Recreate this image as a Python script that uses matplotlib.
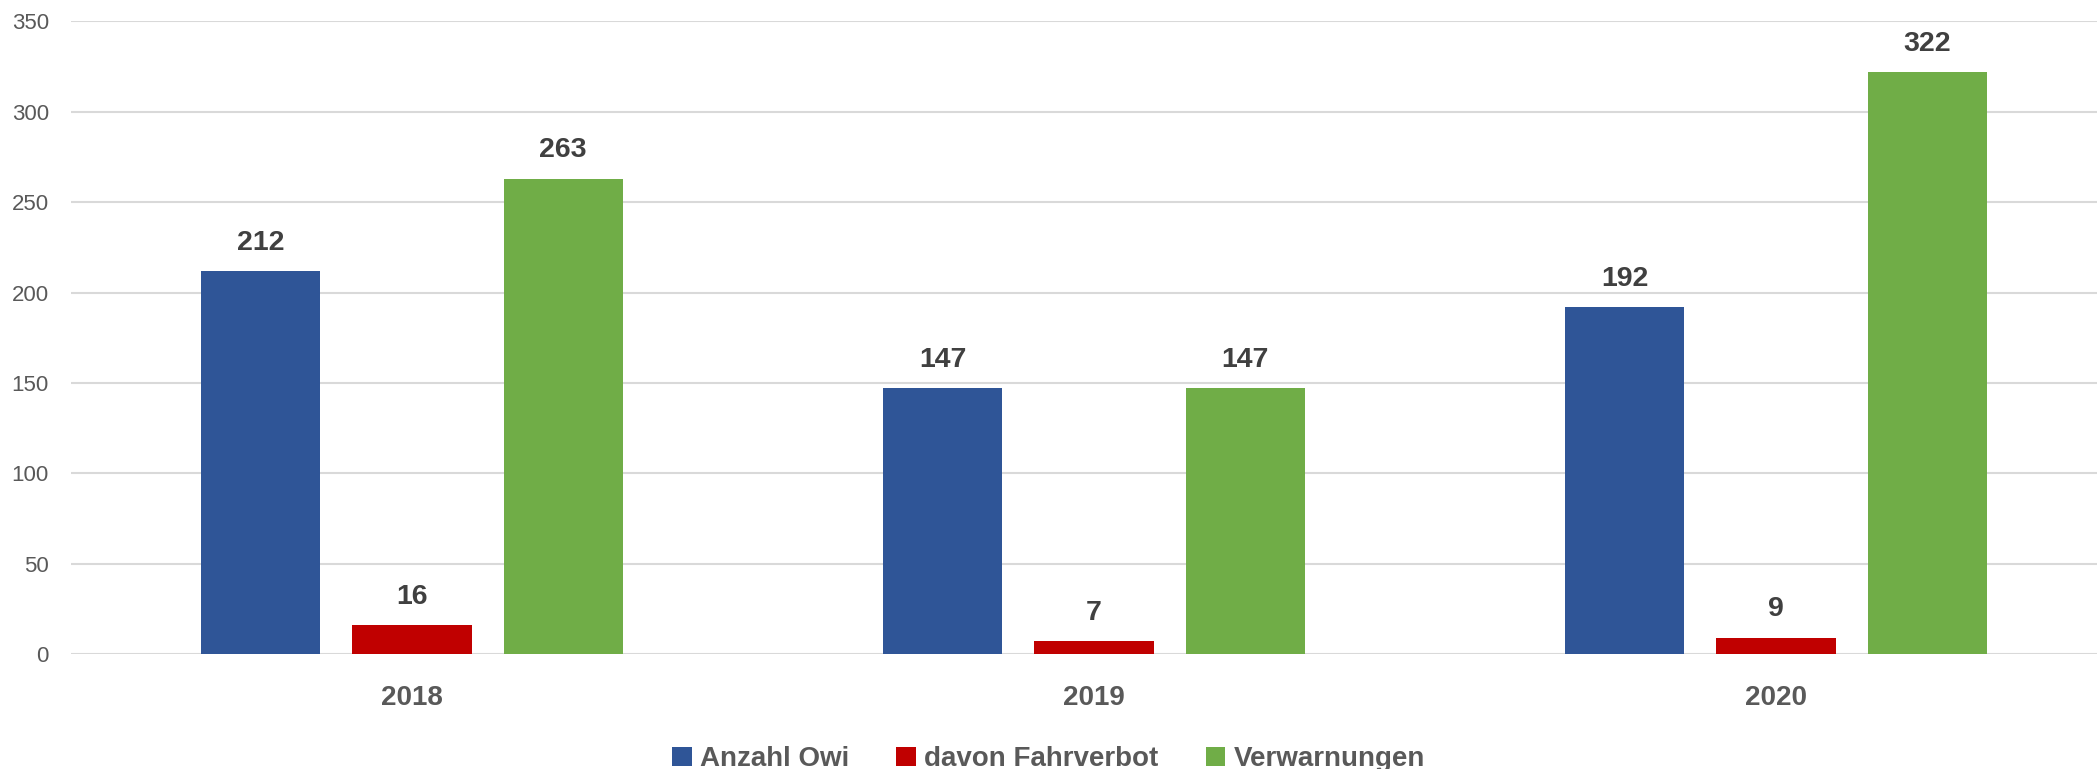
import matplotlib
matplotlib.use("Agg")
import matplotlib.pyplot as plt
import numpy as np
from matplotlib.patches import Patch

plt.rcParams['font.family'] = ['Liberation Sans', 'DejaVu Sans']

years = ["2018", "2019", "2020"]
series_names = ["Anzahl Owi", "davon Fahrverbot", "Verwarnungen"]
anzahl_owi = [212, 147, 192]
fahrverbot = [16, 7, 9]
verwarnungen = [263, 147, 322]
colors = ["#2F5597", "#C00000", "#70AD47"]
yticks = [0, 50, 100, 150, 200, 250, 300, 350]

W, H = 2097, 769
fig = plt.figure(figsize=(W / 100, H / 100), dpi=100)
left = 71 / W
right = 2117 / W
bottom = 1 - 654 / H
top = 1 - 21.4 / H
ax = fig.add_axes([left, bottom, right - left, top - bottom])

x = np.arange(len(years))
width = 0.1745
step = 0.2216
series = [anzahl_owi, fahrverbot, verwarnungen]
for i, (vals, c) in enumerate(zip(series, colors)):
    bars = ax.bar(x + (i - 1) * step, vals, width, color=c, zorder=3)
    for b, v in zip(bars, vals):
        ax.annotate(str(v), (b.get_x() + b.get_width() / 2, v),
                    xytext=(0, 11), textcoords="offset points",
                    ha="center", va="bottom", fontsize=20.5, fontweight="bold",
                    color="#404040")

ax.set_xlim(-0.5, 2.5)
ax.set_ylim(0, 350)
ax.set_yticks(yticks)
ax.set_xticks(x)
ax.set_xticklabels(years, fontsize=20, fontweight="bold", color="#595959")
ax.tick_params(axis="y", labelsize=16, colors="#595959", length=0, pad=16)
ax.tick_params(axis="x", length=0, pad=22)
ax.grid(axis="y", color="#D9D9D9", linewidth=1.5, zorder=0)
ax.set_axisbelow(True)
for s in ax.spines.values():
    s.set_visible(False)

handles = [Patch(facecolor=c, edgecolor="none") for c in colors]
leg = fig.legend(handles, series_names, loc="center", bbox_to_anchor=(0.5, 0.013),
                 ncol=3, frameon=False, handlelength=0.7, handleheight=0.7,
                 handletextpad=0.3, columnspacing=1.7,
                 prop={"size": 20, "weight": "bold"})
for t in leg.get_texts():
    t.set_color("#595959")

fig.savefig("out.png", dpi=100)
